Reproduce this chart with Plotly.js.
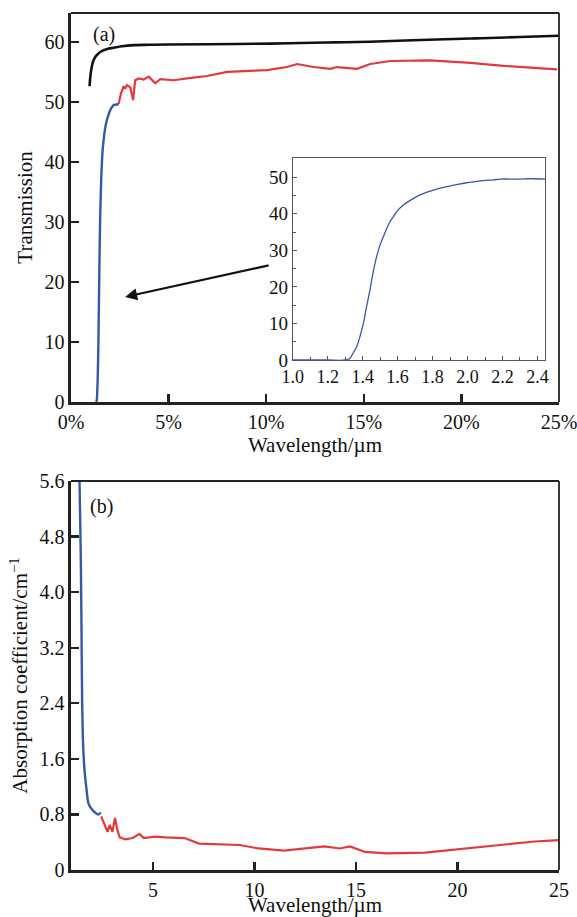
<!DOCTYPE html>
<html>
<head>
<meta charset="utf-8">
<script src="https://cdn.plot.ly/plotly-3.0.1.min.js"></script>
<style>html,body{margin:0;padding:0;background:#fff;}#chart{width:577px;height:917px;}</style>
</head>
<body>
<div id="chart"></div>
<script>
// (a) Transmission
const blackX = [0.95, 1.02, 1.13, 1.25, 1.33, 1.5, 1.67, 1.9, 2.18, 2.6, 3.21, 4.0, 4.92, 7.0, 10.2, 11.75, 13.5, 15.3, 17.5, 20.5, 21.0, 23.0, 25.0];
const blackY = [52.6, 55.0, 56.7, 57.5, 57.8, 58.3, 58.6, 58.85, 59.0, 59.25, 59.45, 59.5, 59.55, 59.6, 59.7, 59.8, 59.9, 60.0, 60.25, 60.55, 60.6, 60.8, 61.0];

const redAX = [2.44, 2.56, 2.70, 2.78, 2.87, 3.04, 3.18, 3.29, 3.46, 3.72, 3.98, 4.15, 4.32, 4.57, 5.26, 5.94, 6.97, 8.0, 9.02, 10.04, 11.07, 11.58, 12.43, 13.28, 13.63, 14.65, 15.33, 16.36, 18.4, 20.46, 22.16, 24.9];
const redAY = [49.7, 51.4, 52.6, 52.2, 52.8, 52.4, 50.3, 53.6, 53.9, 53.7, 54.2, 53.6, 53.1, 53.8, 53.6, 53.9, 54.3, 55.0, 55.2, 55.3, 55.8, 56.3, 55.8, 55.5, 55.8, 55.5, 56.3, 56.8, 56.9, 56.5, 56.0, 55.4];

const blueAX = [1.0, 1.1, 1.2, 1.3, 1.328, 1.35, 1.366, 1.404, 1.42, 1.442, 1.46, 1.48, 1.50, 1.519, 1.54, 1.557, 1.58, 1.595, 1.633, 1.67, 1.709, 1.75, 1.805, 1.85, 1.9, 1.95, 1.995, 2.05, 2.09, 2.15, 2.186, 2.28, 2.35, 2.377, 2.443];
const blueAY = [0, 0, 0, 0, 0.5, 2.3, 3.6, 10.0, 14.0, 19.2, 24.0, 28.3, 31.5, 33.8, 36.2, 37.9, 39.5, 40.6, 42.4, 43.6, 44.7, 45.6, 46.5, 47.1, 47.6, 48.1, 48.5, 48.85, 49.1, 49.3, 49.5, 49.5, 49.6, 49.6, 49.5];

// (b) Absorption coefficient
const blueBX = [1.38, 1.415, 1.45, 1.47, 1.49, 1.51, 1.54, 1.58, 1.64, 1.73, 1.82, 1.92, 2.0, 2.22, 2.32, 2.42];
const blueBY = [5.6, 5.0, 4.3, 3.7, 3.0, 2.4, 1.95, 1.65, 1.39, 1.15, 0.96, 0.9, 0.87, 0.81, 0.8, 0.83];

const redBX = [2.45, 2.64, 2.76, 2.87, 3.0, 3.13, 3.24, 3.36, 3.64, 4.0, 4.33, 4.55, 5.09, 5.64, 6.55, 7.27, 8.36, 9.27, 10.2, 11.45, 12.5, 13.45, 14.2, 14.7, 15.45, 16.5, 18.4, 20.2, 22.0, 23.8, 25.0];
const redBY = [0.77, 0.63, 0.55, 0.65, 0.55, 0.75, 0.58, 0.47, 0.44, 0.46, 0.52, 0.46, 0.48, 0.47, 0.46, 0.38, 0.37, 0.36, 0.31, 0.28, 0.31, 0.34, 0.31, 0.34, 0.26, 0.24, 0.25, 0.30, 0.36, 0.41, 0.43];

const xTicksA = [0, 5, 10, 15, 20, 25];
const xTickTextA = ["0%", "5%", "10%", "15%", "20%", "25%"];
const yTicksB = [0, 0.8, 1.6, 2.4, 3.2, 4.0, 4.8, 5.6];
const yTickTextB = ["0", "0.8", "1.6", "2.4", "3.2", "4.0", "4.8", "5.6"];

const FONT = 'Liberation Serif, Times New Roman, serif';
const RED = '#e2393c', BLUE = '#3558a8', BLK = '#111111';

const mainBlueIdx = blueAX.map((v, i) => i).filter(i => blueAX[i] >= 1.3);

const traces = [
  {x: blackX, y: blackY, xaxis: 'x', yaxis: 'y', mode: 'lines', line: {color: BLK, width: 2.6, shape: 'spline'}},
  {x: mainBlueIdx.map(i => blueAX[i]), y: mainBlueIdx.map(i => blueAY[i]), xaxis: 'x', yaxis: 'y', mode: 'lines', line: {color: BLUE, width: 2.4, shape: 'spline'}},
  {x: redAX, y: redAY, xaxis: 'x', yaxis: 'y', mode: 'lines', line: {color: RED, width: 2.2}},
  {x: blueAX, y: blueAY, xaxis: 'x3', yaxis: 'y3', mode: 'lines', line: {color: BLUE, width: 1.3, shape: 'spline'}},
  {x: blueBX, y: blueBY, xaxis: 'x2', yaxis: 'y2', mode: 'lines', line: {color: BLUE, width: 2.4, shape: 'spline'}},
  {x: redBX, y: redBY, xaxis: 'x2', yaxis: 'y2', mode: 'lines', line: {color: RED, width: 2.2}}
];

const tickFont = {family: FONT, size: 20, color: '#111'};
const titleFont = {family: FONT, size: 21, color: '#111'};
const axBase = {showgrid: false, zeroline: false, showline: true, linecolor: '#222', linewidth: 2.6,
  ticks: 'inside', ticklen: 8, tickwidth: 2.4, tickcolor: '#222', tickfont: tickFont, mirror: false,
  ticklabeloverflow: 'allow'};

const layout = {
  width: 577, height: 917,
  margin: {l: 71, r: 18, t: 13, b: 47},
  paper_bgcolor: '#fff', plot_bgcolor: '#fff',
  showlegend: false,
  font: {family: FONT, color: '#111'},
  xaxis: Object.assign({}, axBase, {domain: [0, 1], range: [0, 25], anchor: 'y', tickvals: xTicksA, ticktext: xTickTextA,
    title: {text: 'Wavelength/µm', font: titleFont, standoff: 0}}),
  yaxis: Object.assign({}, axBase, {domain: [0.5461, 1], range: [0, 64.8], anchor: 'x', dtick: 10, tick0: 0,
    title: {text: 'Transmission', font: titleFont, standoff: 6}}),
  xaxis2: Object.assign({}, axBase, {domain: [0, 1], range: [0.96, 25], anchor: 'y2', tickvals: [5, 10, 15, 20, 25],
    title: {text: 'Wavelength/µm', font: titleFont, standoff: 6}}),
  yaxis2: Object.assign({}, axBase, {domain: [0, 0.4539], range: [0, 5.6], anchor: 'x2', tickvals: yTicksB, ticktext: yTickTextB,
    title: {text: 'Absorption coefficient/cm<sup>−1</sup>', font: titleFont, standoff: 6}}),
  xaxis3: {domain: [0.4543, 0.9713], range: [1.0, 2.443], anchor: 'y3', showgrid: false, zeroline: false,
    showline: true, mirror: true, linecolor: '#555', linewidth: 1, ticks: 'inside', ticklen: 4, tickwidth: 1, tickcolor: '#555',
    dtick: 0.2, tick0: 1.0, tickformat: '.1f', tickfont: {family: FONT, size: 18, color: '#111'}, ticklabeloverflow: 'allow',
    minor: {dtick: 0.1, ticks: 'inside', ticklen: 3, tickwidth: 1, tickcolor: '#555'}},
  yaxis3: {domain: [0.5951, 0.8305], range: [0, 55.2], anchor: 'x3', showgrid: false, zeroline: false,
    showline: true, mirror: true, linecolor: '#555', linewidth: 1, ticks: 'inside', ticklen: 4, tickwidth: 1, tickcolor: '#555',
    dtick: 10, tick0: 0, tickfont: {family: FONT, size: 19, color: '#111'},
    minor: {dtick: 5, ticks: 'inside', ticklen: 3, tickwidth: 1, tickcolor: '#555'}},
  shapes: [
    {type: 'line', xref: 'x domain', yref: 'y domain', x0: 0, x1: 1, y0: 1, y1: 1, line: {color: '#222', width: 1.8}},
    {type: 'line', xref: 'x domain', yref: 'y domain', x0: 1, x1: 1, y0: 0, y1: 1, line: {color: '#222', width: 1.8}},
    {type: 'line', xref: 'x2 domain', yref: 'y2 domain', x0: 0, x1: 1, y0: 1, y1: 1, line: {color: '#222', width: 1.8}},
    {type: 'line', xref: 'x2 domain', yref: 'y2 domain', x0: 1, x1: 1, y0: 0, y1: 1, line: {color: '#222', width: 1.8}}
  ],
  annotations: [
    {x: 2.77, y: 17.5, xref: 'x', yref: 'y', ax: 10.2, ay: 22.8, axref: 'x', ayref: 'y', text: '',
      showarrow: true, arrowhead: 2, arrowsize: 1.1, arrowwidth: 2.2, arrowcolor: '#111'},
    {x: (104 - 71) / 488, y: (870 - 35) / 857, xref: 'paper', yref: 'paper', xanchor: 'center', yanchor: 'middle',
      text: '(a)', showarrow: false, font: {family: FONT, size: 20, color: '#111'}},
    {x: (101 - 71) / 488, y: (870 - 506) / 857, xref: 'paper', yref: 'paper', xanchor: 'center', yanchor: 'middle',
      text: '(b)', showarrow: false, font: {family: FONT, size: 20, color: '#111'}}
  ]
};

Plotly.newPlot('chart', traces, layout, {staticPlot: true, displayModeBar: false});
</script>
</body>
</html>
